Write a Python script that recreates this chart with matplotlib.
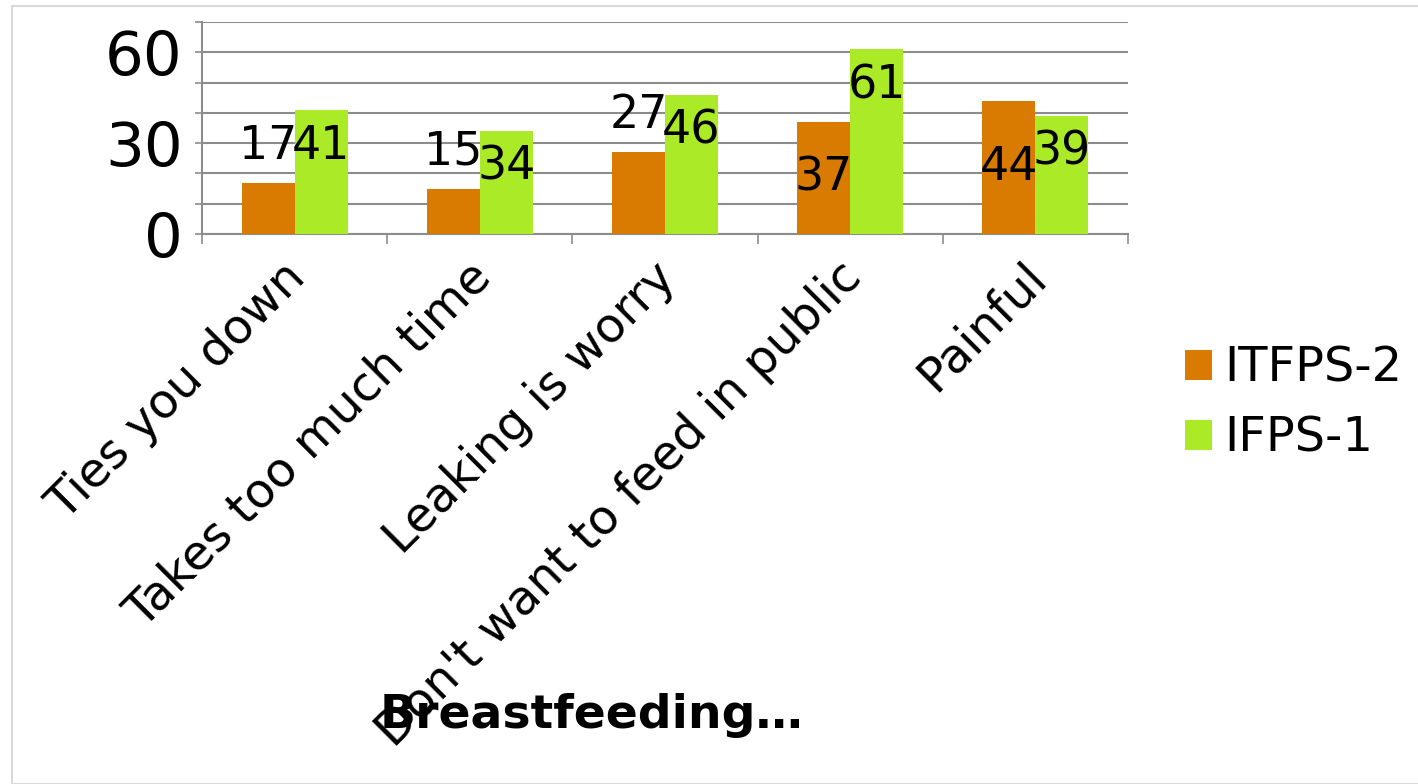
import matplotlib
matplotlib.use("Agg")
import matplotlib.pyplot as plt
from matplotlib.patches import Rectangle
from matplotlib.transforms import ScaledTranslation
import numpy as np

categories = ["Ties you down", "Takes too much time", "Leaking is worry",
              "Don't want to feed in public", "Painful"]
itfps2 = [17, 15, 27, 37, 44]
ifps1 = [41, 34, 46, 61, 39]
series_names = ["ITFPS-2", "IFPS-1"]
title = "Breastfeeding…"
yticks = [0, 10, 20, 30, 40, 50, 60, 70]
ylabels = ["0", "", "", "30", "", "", "60", ""]

# label placement modes (Excel-like)
itfps2_mode = ["above", "above", "above", "center", "center"]
ifps1_mode = ["inside", "inside", "inside", "inside", "inside"]

c_orange = "#d97b00"
c_green = "#aaea26"
grid_c = "#8c8c8c"

W, H = 1418, 784
fig = plt.figure(figsize=(W / 100, H / 100), dpi=100)
fig.patches.append(Rectangle((12 / W, 0), 1.0, 1 - 6 / H, transform=fig.transFigure,
                             fill=False, edgecolor="#d9d9d9", linewidth=1.5))

ax = fig.add_axes([202 / W, 1 - 234 / H, (1128 - 202) / W, (234 - 22) / H])
x = np.arange(len(categories))
bw = 0.286
b1 = ax.bar(x - bw / 2, itfps2, bw, color=c_orange, label=series_names[0], zorder=3)
b2 = ax.bar(x + bw / 2, ifps1, bw, color=c_green, label=series_names[1], zorder=3)

def label_pos(v, mode):
    if mode == "above":
        return v + 12
    if mode == "center":
        return v / 2
    return v - 12

for xi, v, m in zip(x - bw / 2, itfps2, itfps2_mode):
    ax.text(xi, label_pos(v, m), str(v), ha="center", va="center", fontsize=33, zorder=5)
for xi, v, m in zip(x + bw / 2, ifps1, ifps1_mode):
    ax.text(xi, label_pos(v, m), str(v), ha="center", va="center", fontsize=33, zorder=5)

ax.set_xlim(-0.5, len(categories) - 0.5)
ax.set_ylim(0, 70)
ax.set_yticks(yticks)
ax.set_yticklabels(ylabels, fontsize=44)
ax.yaxis.grid(True, color=grid_c, linewidth=1.5, zorder=0)
ax.tick_params(axis="y", direction="out", length=5, width=1.2, color=grid_c, pad=9)

ax.set_xticks(x)
ax.set_xticklabels(categories, rotation=45, ha="right", va="top",
                   rotation_mode="anchor", fontsize=34.5)
ax.tick_params(axis="x", which="major", length=0, pad=14)
shift = ScaledTranslation(-0.13, 0, fig.dpi_scale_trans)
for lab in ax.get_xticklabels():
    lab.set_transform(lab.get_transform() + shift)
ax.set_xticks(np.arange(-0.5, len(categories), 1.0), minor=True)
ax.tick_params(axis="x", which="minor", direction="out", length=7, width=1.2, color=grid_c)

for s in ["top", "right"]:
    ax.spines[s].set_visible(False)
for s in ["left", "bottom"]:
    ax.spines[s].set_color(grid_c)
    ax.spines[s].set_linewidth(1.5)

fig.legend(handles=[b1, b2], labels=series_names, loc="upper left",
           bbox_to_anchor=(1185 / W, 1 - 345 / H), frameon=False, fontsize=34.5,
           handlelength=0.56, handleheight=0.56, handletextpad=0.25,
           labelspacing=0.48, borderpad=0, borderaxespad=0)

fig.text(591 / W, 1 - 716 / H, title, ha="center", va="center",
         fontsize=34, fontweight="bold")

fig.savefig("out.png", dpi=100)
